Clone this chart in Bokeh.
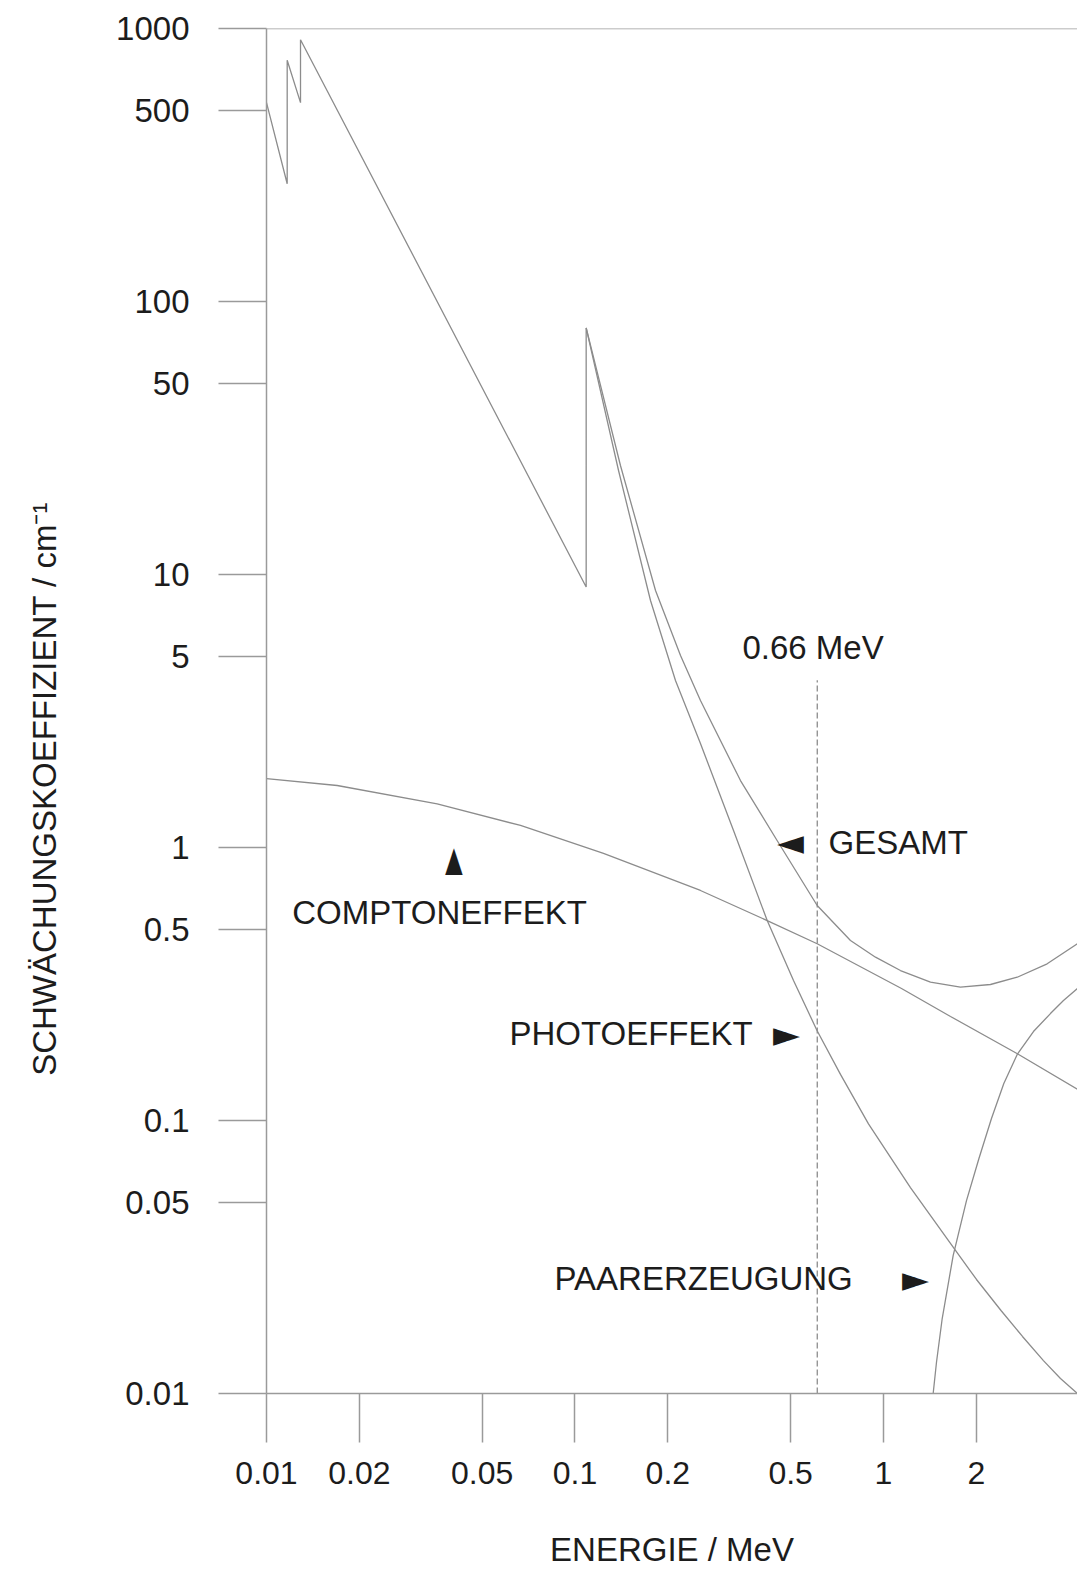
import math
from bokeh.plotting import figure
from bokeh.models import Range1d, FixedTicker, CustomJSTickFormatter, Label, Span
from bokeh.embed import file_html
from bokeh.resources import INLINE

# ---------------- data ----------------
# Gesamt (total attenuation), energy in MeV, coefficient in 1/cm
total_energy = [0.01, 0.01167, 0.01167, 0.01289, 0.01289, 0.1087, 0.1087, 0.1404,
                0.1824, 0.2198, 0.2551, 0.3439, 0.452, 0.6097, 0.7816, 0.9421,
                1.135, 1.420, 1.776, 2.222, 2.713, 3.393, 4.255]
total_mu = [535, 270, 765, 535, 910, 9.0, 80, 25.07,
            8.74, 5.05, 3.455, 1.759, 1.061, 0.613, 0.4563, 0.3965,
            0.3543, 0.3210, 0.3078, 0.3149, 0.3348, 0.375, 0.444]

# Photoeffekt (from the K edge on; below it it coincides with the total)
photo_energy = [0.1087, 0.1384, 0.1757, 0.2117, 0.2551, 0.3265, 0.4198, 0.5109,
                0.6088, 0.7254, 0.894, 1.223, 1.682, 2.002, 2.404, 2.822,
                3.300, 3.747, 4.255]
photo_mu = [80, 24.04, 8.03, 4.09, 2.404, 1.154, 0.540, 0.3257,
            0.2137, 0.1475, 0.0972, 0.0568, 0.03435, 0.02616, 0.02014, 0.01618,
            0.0132, 0.01135, 0.01]

# Comptoneffekt
compton_energy = [0.01, 0.01695, 0.03575, 0.0666, 0.1237, 0.2551, 0.4198, 0.6097,
                  1.144, 1.649, 2.708, 4.255]
compton_mu = [1.789, 1.687, 1.446, 1.204, 0.951, 0.696, 0.540, 0.444,
              0.3045, 0.2404, 0.176, 0.130]

# Paarerzeugung
pair_energy = [1.449, 1.485, 1.550, 1.682, 1.858, 2.039, 2.239, 2.455, 2.713,
               3.063, 3.477, 3.832, 4.255]
pair_mu = [0.01, 0.01299, 0.01882, 0.0320, 0.0509, 0.0726, 0.1017, 0.1366, 0.1745,
           0.2118, 0.2464, 0.2753, 0.3045]

# marked energy (Cs-137 line) and the top of its dashed line
marker_energy = [0.61]
marker_bottom = [0.01]
marker_top = [4.1]

x_ticks = [0.01, 0.02, 0.05, 0.1, 0.2, 0.5, 1, 2]
x_tick_labels = ["0.01", "0.02", "0.05", "0.1", "0.2", "0.5", "1", "2"]
y_ticks = [0.01, 0.05, 0.1, 0.5, 1, 5, 10, 50, 100, 500, 1000]
y_tick_labels = ["0.01", "0.05", "0.1", "0.5", "1", "5", "10", "50", "100", "500", "1000"]

# ---------------- styling ----------------
GRAY = "#9a9a9a"
CURVE = "#8c8c8c"
TXT = "#1c1c1c"
FONT = "Liberation Sans"

p = figure(width=1077, height=1571, x_axis_type="log", y_axis_type="log",
           x_range=Range1d(0.01, 4.255), y_range=Range1d(0.01, 1000),
           output_backend="svg", toolbar_location=None,
           min_border_left=266, min_border_right=0, min_border_top=28,
           min_border_bottom=178)
p.outline_line_color = None
p.xgrid.visible = False
p.ygrid.visible = False
p.background_fill_color = "white"
p.border_fill_color = "white"

fmt_code = ("let best = -1; let d = Infinity;"
            "for (let i = 0; i < tvals.length; i++) {"
            "  const e = Math.abs(Math.log10(tvals[i]) - Math.log10(tick));"
            "  if (e < d) { d = e; best = i; } }"
            "return (best >= 0 && d < 1e-6) ? tlabels[best] : '';")

xa = p.xaxis[0]
xa.ticker = FixedTicker(ticks=x_ticks, minor_ticks=[])
xa.formatter = CustomJSTickFormatter(args=dict(tvals=x_ticks, tlabels=x_tick_labels), code=fmt_code)
xa.major_tick_out = 49
xa.major_tick_in = 0
xa.minor_tick_out = 0
xa.minor_tick_in = 0
xa.axis_line_color = GRAY
xa.axis_line_width = 1.5
xa.major_tick_line_color = GRAY
xa.major_tick_line_width = 1.5
xa.major_label_text_font = FONT
xa.major_label_text_font_size = "32px"
xa.major_label_text_color = TXT
xa.major_label_standoff = 19
xa.axis_label = "ENERGIE / MeV"
xa.axis_label_text_font = FONT
xa.axis_label_text_font_size = "33px"
xa.axis_label_text_font_style = "normal"
xa.axis_label_text_color = TXT
xa.axis_label_standoff = 44

ya = p.yaxis[0]
ya.ticker = FixedTicker(ticks=y_ticks, minor_ticks=[])
ya.formatter = CustomJSTickFormatter(args=dict(tvals=y_ticks, tlabels=y_tick_labels), code=fmt_code)
ya.major_tick_out = 48
ya.major_tick_in = 0
ya.minor_tick_out = 0
ya.minor_tick_in = 0
ya.axis_line_color = GRAY
ya.axis_line_width = 1.5
ya.major_tick_line_color = GRAY
ya.major_tick_line_width = 1.5
ya.major_label_text_font = FONT
ya.major_label_text_font_size = "33px"
ya.major_label_text_color = TXT
ya.major_label_standoff = 29
# trailing no-break spaces push the visible title downwards (it is centred on the frame)
ya.axis_label = "SCHWÄCHUNGSKOEFFIZIENT / cm\u207b\u00b9" + "\u00a0" * 17
ya.axis_label_text_font = FONT
ya.axis_label_text_font_size = "33px"
ya.axis_label_text_font_style = "normal"
ya.axis_label_text_color = TXT
ya.axis_label_standoff = 50

p.add_layout(Span(location=1000, dimension="width", line_color=GRAY, line_width=1.5))

# curves
for xs, ys in [(total_energy, total_mu), (photo_energy, photo_mu),
               (compton_energy, compton_mu), (pair_energy, pair_mu)]:
    p.line(xs, ys, line_color=CURVE, line_width=1.3)

p.segment(x0=marker_energy, y0=marker_bottom, x1=marker_energy, y1=marker_top,
          line_color=CURVE, line_width=1.3, line_dash="6 3")

def lab(x, y, text, size="33px", align="left", angle=0.0, font=FONT):
    p.add_layout(Label(x=x, y=y, text=text, text_font=font, text_font_size=size,
                       text_color=TXT, text_align=align, text_baseline="middle",
                       angle=angle, angle_units="rad"))

lab(0.591, 5.415, "0.66 MeV", align="center")
lab(0.6633, 1.046, "GESAMT")
lab(0.01212, 0.5794, "COMPTONEFFEKT")
lab(0.0613, 0.2078, "PHOTOEFFEKT")
lab(0.0858, 0.0263, "PAARERZEUGUNG")

# pointer triangles
lab(0.4995, 1.046, "\u25c4", size="35px", align="center", font="DejaVu Sans")
lab(0.4850, 0.2078, "\u25ba", size="35px", align="center", font="DejaVu Sans")
lab(1.27, 0.0263, "\u25ba", size="35px", align="center", font="DejaVu Sans")
lab(0.03949, 0.8886, "\u25ba", size="35px", align="center", angle=math.pi / 2, font="DejaVu Sans")

open("out.html", "w").write(file_html(p, INLINE))
